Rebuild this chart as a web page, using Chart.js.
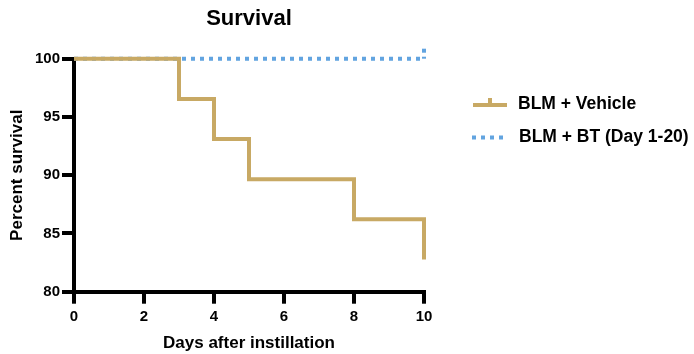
<!DOCTYPE html>
<html>
<head>
<meta charset="utf-8">
<script src="https://cdn.jsdelivr.net/npm/chart.js@4/dist/chart.umd.min.js"></script>
<style>
  html, body { margin: 0; padding: 0; background: #fff; }
  #wrap { width: 694px; height: 354px; }
</style>
</head>
<body>
<div id="wrap"><canvas id="c" width="694" height="354"></canvas></div>
<script>
// ---- data ----
const chartTitle = 'Survival';
const xTitle = 'Days after instillation';
const yTitle = 'Percent survival';
const vehicleLabel = 'BLM + Vehicle';
const btLabel = 'BLM + BT (Day 1-20)';
const vehicleDays = [0, 3, 4, 5, 8, 10];
const vehicleSurvival = [100, 96.55, 93.10, 89.66, 86.21, 82.76];
const btDays = [0, 10];
const btSurvival = [100, 100];
const xTicks = [0, 2, 4, 6, 8, 10];
const yTicks = [80, 85, 90, 95, 100];

const TAN = '#C8A964';
const BLUE = '#62A4E0';
const FONT = "'Liberation Sans', Arial, sans-serif";

const toPts = (xs, ys) => xs.map((x, i) => ({x, y: ys[i]}));

const legendPlugin = {
  id: 'customLegend',
  afterDraw(chart) {
    const ctx = chart.ctx;
    ctx.save();
    // censor tick at the end of BT line
    const xs = chart.scales.x, ys = chart.scales.y;
    const ex = xs.getPixelForValue(btDays[btDays.length - 1]);
    const ey = ys.getPixelForValue(btSurvival[btSurvival.length - 1]);
    ctx.strokeStyle = BLUE;
    ctx.lineWidth = 4;
    ctx.setLineDash([4, 4]);
    ctx.beginPath();
    ctx.moveTo(ex, ey - 10);
    ctx.lineTo(ex, ey);
    ctx.stroke();
    ctx.setLineDash([]);

    // legend: vehicle
    ctx.strokeStyle = TAN;
    ctx.lineWidth = 4;
    ctx.beginPath();
    ctx.moveTo(473, 105);
    ctx.lineTo(507, 105);
    ctx.moveTo(490, 105);
    ctx.lineTo(490, 98);
    ctx.stroke();
    // legend: BT
    ctx.strokeStyle = BLUE;
    ctx.setLineDash([4, 5]);
    ctx.beginPath();
    ctx.moveTo(472, 137.5);
    ctx.lineTo(504, 137.5);
    ctx.stroke();
    ctx.setLineDash([]);

    ctx.fillStyle = '#000';
    ctx.font = 'bold 17.5px ' + FONT;
    ctx.textBaseline = 'middle';
    ctx.textAlign = 'left';
    ctx.fillText(vehicleLabel, 518, 104);
    ctx.fillText(btLabel, 519, 137);
    ctx.restore();
  }
};

new Chart(document.getElementById('c'), {
  type: 'line',
  data: {
    datasets: [
      {
        label: vehicleLabel,
        data: toPts(vehicleDays, vehicleSurvival),
        borderColor: TAN,
        borderWidth: 4,
        stepped: 'before',
        pointRadius: 0,
        fill: false,
        clip: 8
      },
      {
        label: btLabel,
        data: toPts(btDays, btSurvival),
        borderColor: BLUE,
        borderWidth: 4,
        borderDash: [4, 5],
        pointRadius: 0,
        fill: false,
        clip: 8
      }
    ]
  },
  options: {
    responsive: false,
    animation: false,
    layout: { padding: { left: 0, right: 270, top: 0, bottom: 0 } },
    plugins: {
      legend: { display: false },
      tooltip: { enabled: false },
      title: {
        display: true,
        text: chartTitle,
        fullSize: false,
        color: '#000',
        font: { family: FONT, size: 22, weight: 'bold' },
        padding: { top: 5.8, bottom: 26.5 }
      }
    },
    scales: {
      x: {
        type: 'linear',
        min: 0, max: 10,
        afterFit(s) { s.height = 62.3; },
        afterBuildTicks(s) { s.ticks = xTicks.map(v => ({value: v})); },
        ticks: { color: '#000', font: { family: FONT, size: 15, weight: 'bold' }, padding: 4, maxRotation: 0 },
        grid: { drawOnChartArea: false, color: '#000', tickColor: '#000', tickLength: 12, lineWidth: 4 },
        border: { display: true, color: '#000', width: 4 },
        title: { display: true, text: xTitle, color: '#000', font: { family: FONT, size: 17, weight: 'bold' }, padding: { top: 0, bottom: 0 } }
      },
      y: {
        min: 80, max: 100,
        afterFit(s) { s.width = 74; },
        afterBuildTicks(s) { s.ticks = yTicks.map(v => ({value: v})); },
        ticks: { color: '#000', font: { family: FONT, size: 15, weight: 'bold' }, padding: 2 },
        grid: { drawOnChartArea: false, color: '#000', tickColor: '#000', tickLength: 12, lineWidth: 4 },
        border: { display: true, color: '#000', width: 4 },
        title: { display: true, text: yTitle, color: '#000', font: { family: FONT, size: 17, weight: 'bold' }, padding: { top: 7, bottom: 0 } }
      }
    }
  },
  plugins: [legendPlugin]
});
</script>
</body>
</html>
